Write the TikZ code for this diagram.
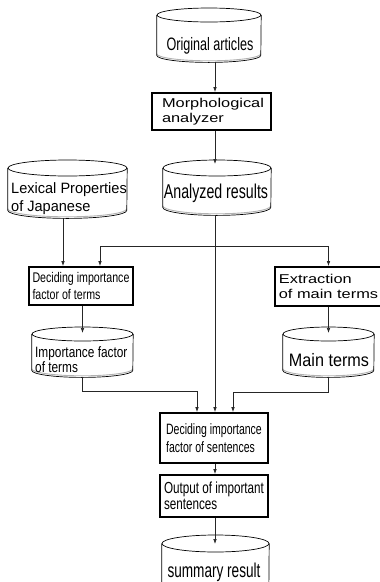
\documentclass[tikz,border=0pt]{standalone}
\usepackage{fontspec}
\setmainfont{Liberation Sans}
\usetikzlibrary{arrows.meta,calc}
\newcommand\tf[3]{\fontsize{#2}{#3}\selectfont\addfontfeatures{FakeStretch=#1}}
\tikzset{
  conn/.style={line width=0.7pt, draw=black!85},
  arr/.style={conn, -{Latex[length=5pt,width=3.6pt]}},
  procbox/.style={draw, line width=1.8pt, rectangle, inner sep=0pt, align=left},
  cylbox/.style={rectangle, inner sep=0pt, draw=none},
  cylline/.style={line width=0.7pt},
  cylshade/.style={line width=0.9pt, draw=black!30},
  txt/.style={inner sep=0pt},
}
% name, center x, top y, width, height, ry
\newcommand\cylnode[6]{%
  \node[cylbox, minimum width=#4, minimum height=#5, anchor=north] (#1) at (#2,#3) {};
  \draw[cylshade] ([yshift=#6+1.6]#1.south west) arc[start angle=180, end angle=360, x radius=#4/2, y radius=#6];
  \draw[cylline] ([yshift=-#6]#1.north) ellipse [x radius=#4/2, y radius=#6];
  \draw[cylline] ([yshift=-#6]#1.north west) -- ([yshift=#6]#1.south west)
     arc[start angle=180, end angle=360, x radius=#4/2, y radius=#6] -- ([yshift=-#6]#1.north east);
}
\begin{document}
\begin{tikzpicture}[x=1pt, y=1pt]
\useasboundingbox (0,0) rectangle (380,-582);
\fill[white] (0,0) rectangle (380,-582);

% helper coordinates for connector columns
\coordinate (axis) at (215,0);
\coordinate (lexx) at (63,0);
\coordinate (dtin) at (100,0);
\coordinate (jn) at (215,-246);
\coordinate (inl) at (197,-391);
\coordinate (inr) at (233,-392);

% cylinders
\cylnode{orig}{209}{-8}{104}{54}{7}
\node[txt, anchor=base, font=\tf{0.7}{18}{20}] (orig-t) at (210,-50) {Original articles};

\cylnode{ana}{217}{-160}{108}{55}{8}
\node[txt, anchor=base, font=\tf{0.71}{20}{22}] (ana-t) at (216,-198) {Analyzed results};

\cylnode{lex}{67.5}{-160}{119}{58}{8}
\node[txt, anchor=north west, align=left, font=\tf{0.97}{15}{18}] (lex-t) at (11,-182) {Lexical Properties\\of Japanese};

\cylnode{imp}{82.5}{-327}{101}{50}{7}
\node[txt, anchor=north west, align=left, font=\tf{0.79}{15}{15.5}] (imp-t) at (35,-346) {Importance factor\\of terms};

\cylnode{main}{328.5}{-327}{91}{50}{7}
\node[txt, anchor=base, font=\tf{0.9}{18}{20}] (main-t) at (329,-366) {Main terms};

\cylnode{sum}{215.5}{-535}{107}{65}{8.5}
\node[txt, anchor=base, font=\tf{0.68}{20}{22}] (sum-t) at (214,-577) {summary result};

% process boxes
\node[procbox, minimum width=119, minimum height=37, font=\tf{1.28}{12.8}{15.5}] (morph) at (211.5,-111.5) {\hspace*{3pt}Morphological\\\hspace*{3pt}analyzer};
\node[procbox, minimum width=104, minimum height=38, font=\tf{0.76}{14}{17}] (dterm) at (81,-286) {Deciding importance\\factor of terms};
\node[procbox, minimum width=107, minimum height=39, font=\tf{1.28}{12.8}{15.5}] (ext) at (328.5,-286.5) {Extraction\\of main terms};
\node[procbox, minimum width=108, minimum height=50, font=\tf{0.7}{15}{18}] (dsent) at (214,-438) {Deciding importance\\factor of sentences};
\node[procbox, minimum width=108, minimum height=42, font=\tf{0.73}{16}{15.5}] (out) at (214,-496) {Output of important\\sentences};

% connectors
\draw[arr] (orig.south -| axis) -- (morph.north -| axis);
\draw[arr] (morph.south -| axis) -- ([yshift=-4]ana.north -| axis);
\draw[arr] (ana.south -| axis) -- (dsent.north -| axis);
\draw[arr] (jn) -| (dterm.north -| dtin);
\draw[arr] (jn) -| (ext.north);
\draw[arr] (lex.south -| lexx) -- (dterm.north -| lexx);
\draw[arr] (dterm.south -| imp.south) -- ([yshift=-6]imp.north);
\draw[arr] (imp.south) |- (inl) -- (dsent.north -| inl);
\draw[arr] (ext.south -| main.north) -- ([yshift=-6]main.north);
\draw[arr] (main.south) |- (inr) -- (dsent.north -| inr);
\draw[arr] (dsent.south -| axis) -- (out.north -| axis);
\draw[arr] (out.south -| axis) -- ([yshift=-9]sum.north -| axis);
\end{tikzpicture}
\end{document}
